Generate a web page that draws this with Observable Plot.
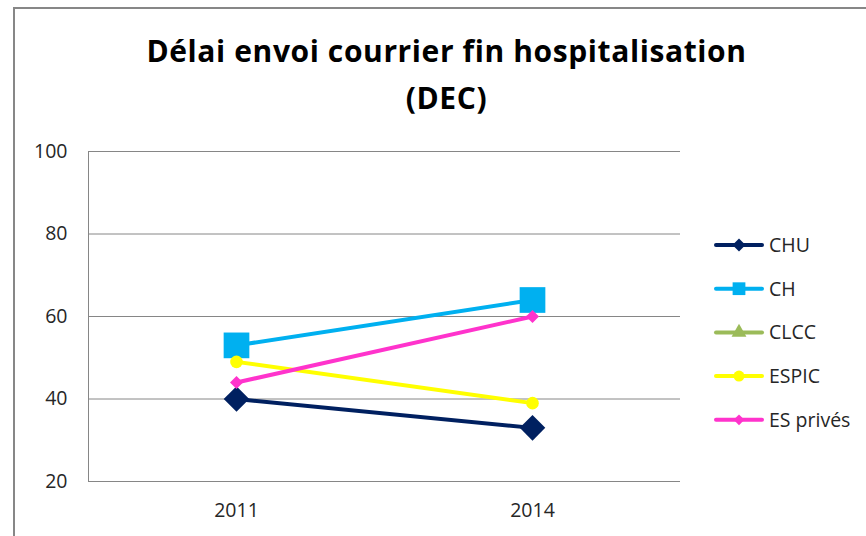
<!DOCTYPE html>
<html>
<head>
<meta charset="utf-8">
<script src="https://cdn.jsdelivr.net/npm/d3@7"></script>
<script src="https://cdn.jsdelivr.net/npm/@observablehq/plot@0.6"></script>
<style>
  body { margin: 0; background: #fff; }
  #wrap { position: relative; width: 866px; height: 536px; overflow: hidden; background: #fff; }
  #border { position: absolute; left: 13px; top: 7px; width: 1000px; height: 1000px;
            border-left: 2px solid #878787; border-top: 2px solid #878787; box-sizing: border-box; }
  #chart, #title, #legend { position: absolute; left: 0; top: 0; }
  text { font-variant-ligatures: none; }
</style>
</head>
<body>
<div id="wrap">
  <div id="border"></div>
  <div id="chart"></div>
  <svg id="title" width="866" height="140"></svg>
  <svg id="legend" width="866" height="536"></svg>
</div>
<script>
// ---- data ----
const years = ["2011", "2014"];
const seriesNames = ["CHU", "CH", "CLCC", "ESPIC", "ES privés"];
const chuValues = [40, 33];
const chValues = [53, 64];
const clccValues = [null, null];
const espicValues = [49, 39];
const esPrivesValues = [44, 60];
const yTicks = [20, 40, 60, 80, 100];
const titleLines = ["Délai envoi courrier fin hospitalisation", "(DEC)"];

// ---- styles ----
const colors = {"CHU": "#002060", "CH": "#00B0F0", "CLCC": "#9BBB59", "ESPIC": "#FFFF00", "ES privés": "#FF33CC"};
const symbols = {"CHU": "square", "CH": "square", "CLCC": "triangle", "ESPIC": "circle", "ES privés": "square"};
const rotations = {"CHU": 45, "CH": 0, "CLCC": 0, "ESPIC": 0, "ES privés": 45};
const plotR = {"CHU": 10.2, "CH": 14.5, "CLCC": 6, "ESPIC": 6.3, "ES privés": 5.2};
const legendR = {"CHU": 5.2, "CH": 7.2, "CLCC": 5.5, "ESPIC": 5.5, "ES privés": 4.3};

const valuesBySeries = {"CHU": chuValues, "CH": chValues, "CLCC": clccValues, "ESPIC": espicValues, "ES privés": esPrivesValues};
const rows = [];
for (const s of seriesNames) {
  valuesBySeries[s].forEach((v, i) => { if (v != null) rows.push({series: s, year: years[i], value: v}); });
}

const font = "'Open Sans', sans-serif";
const labelSize = 19.5;
const marks = [
  Plot.gridY(yTicks, {stroke: "#868686", strokeOpacity: 1, strokeWidth: 1}),
  Plot.frame({anchor: "left", stroke: "#868686", strokeWidth: 1}),
  Plot.axisY(yTicks, {tickSize: 0, tickPadding: 21, fontSize: labelSize, fill: "#262626", label: null, fontFamily: font}),
  Plot.axisX({tickSize: 0, tickPadding: 22, fontSize: labelSize, fill: "#262626", label: null, fontFamily: font})
];
for (const s of seriesNames) {
  const d = rows.filter(r => r.series === s);
  if (!d.length) continue;
  marks.push(Plot.lineY(d, {x: "year", y: "value", stroke: colors[s], strokeWidth: 4}));
  marks.push(Plot.dot(d, {x: "year", y: "value", fill: colors[s], stroke: "none", symbol: symbols[s], r: plotR[s], rotate: rotations[s]}));
}

const chart = Plot.plot({
  width: 866,
  height: 536,
  marginLeft: 88,
  marginRight: 186,
  marginTop: 151,
  marginBottom: 55,
  style: {background: "transparent", fontFamily: font},
  x: {type: "point", domain: years, padding: 0.5},
  y: {domain: [20, 100]},
  marks
});
document.getElementById("chart").appendChild(chart);

// ---- title ----
const title = d3.select("#title");
const titleBaselines = [62, 108.5];
const titleNodes = titleLines.map((t, i) =>
  title.append("text")
    .attr("x", 446.5).attr("y", titleBaselines[i])
    .attr("text-anchor", "middle")
    .attr("font-family", "'Open Sans', sans-serif").attr("font-weight", "bold")
    .attr("font-size", 30).attr("letter-spacing", 0.6).attr("fill", "#000")
    .text(t));

// ---- legend ----
const legend = d3.select("#legend");
const symbolMap = {square: d3.symbolSquare, triangle: d3.symbolTriangle, circle: d3.symbolCircle};
seriesNames.forEach((s, i) => {
  const y = 245 + i * 43.7;
  const g = legend.append("g").attr("transform", `translate(0,${y})`);
  g.append("line").attr("x1", 716).attr("x2", 762).attr("y1", 0).attr("y2", 0)
    .attr("stroke", colors[s]).attr("stroke-width", 4).attr("stroke-linecap", "round");
  const r = legendR[s];
  g.append("path")
    .attr("d", d3.symbol(symbolMap[symbols[s]], Math.PI * r * r)())
    .attr("transform", `translate(739,0) rotate(${rotations[s]})`)
    .attr("fill", colors[s]);
  g.append("text").attr("x", 769).attr("y", 7)
    .attr("font-family", font).attr("font-size", labelSize).attr("fill", "#262626")
    .text(s);
});
</script>
</body>
</html>
